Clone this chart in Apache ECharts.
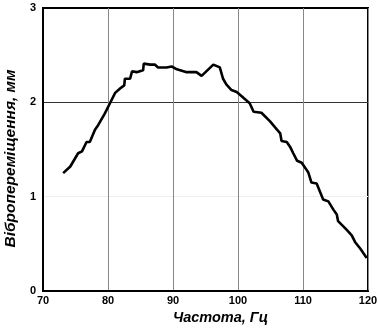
<!DOCTYPE html>
<html>
<head>
<meta charset="utf-8">
<script src="https://cdn.jsdelivr.net/npm/echarts@6/dist/echarts.min.js"></script>
<style>
html, body { margin: 0; padding: 0; background: #fff; }
#main { width: 378px; height: 331px; }
</style>
</head>
<body>
<div id="main"></div>
<script>
// частота, Гц
var freq = [73.1, 74.2, 75.4, 76.0, 76.7, 77.2, 78.0, 78.5, 79.5, 80.3, 81.1, 81.9, 82.5, 82.6, 83.4, 83.7,
    84.4, 84.7, 85.4, 85.5, 86.5, 87.2, 87.7, 89.0, 89.8, 90.6, 92.1, 93.6, 94.4, 96.2, 97.2, 97.7,
    98.2, 99.0, 99.3, 99.8, 100.3, 101.8, 102.4, 103.6, 104.9, 106.0, 106.5, 106.7, 107.5, 108.0,
    108.5, 109.1, 109.8, 110.8, 111.3, 112.1, 113.1, 113.9, 114.7, 115.2, 115.4, 116.7, 117.5,
    118.0, 118.8, 119.8];
// вібропереміщення, мм
var disp = [1.25, 1.32, 1.46, 1.48, 1.58, 1.58, 1.71, 1.76, 1.88, 1.99, 2.10, 2.15, 2.18, 2.25, 2.25, 2.33,
    2.32, 2.34, 2.34, 2.41, 2.40, 2.40, 2.37, 2.37, 2.38, 2.35, 2.32, 2.32, 2.28, 2.40, 2.37, 2.25,
    2.19, 2.13, 2.11, 2.11, 2.08, 1.99, 1.90, 1.89, 1.80, 1.71, 1.67, 1.59, 1.58, 1.53,
    1.46, 1.38, 1.36, 1.26, 1.15, 1.14, 0.97, 0.95, 0.86, 0.81,
    0.74, 0.65, 0.59, 0.52, 0.45, 0.35];
var xTicks = [70, 80, 90, 100, 110, 120];
var yTicks = [0, 1, 2, 3];

var chart = echarts.init(document.getElementById('main'));
var font = 'Liberation Sans, Arial, sans-serif';

var points = [];
for (var i = 0; i < freq.length; i++) points.push([freq[i], disp[i]]);

chart.setOption({
    animation: false,
    backgroundColor: '#fff',
    grid: {
        left: 43, right: 10, top: 8, bottom: 40,
        outerBoundsMode: 'none',
        containLabel: false,
        show: true, borderColor: '#000', borderWidth: 2, backgroundColor: 'transparent'
    },
    xAxis: {
        type: 'value',
        min: xTicks[0], max: xTicks[xTicks.length - 1], interval: 10,
        name: 'Частота, Гц',
        nameLocation: 'middle',
        nameGap: 18,
        nameTextStyle: { fontFamily: font, fontSize: 14.5, fontWeight: 'bold', fontStyle: 'italic', color: '#000', padding: [0, 0, 0, 30] },
        axisLine: { lineStyle: { color: '#000', width: 2 } },
        axisTick: { show: false },
        axisLabel: { fontFamily: font, fontSize: 11, fontWeight: 'bold', color: '#000', margin: 4 },
        splitLine: { lineStyle: { color: '#888', width: 1 } }
    },
    yAxis: {
        type: 'value',
        min: yTicks[0], max: yTicks[yTicks.length - 1], interval: 1,
        name: 'Вібропереміщення, мм',
        nameLocation: 'middle',
        nameGap: 21,
        nameTextStyle: { fontFamily: font, fontSize: 15.5, fontWeight: 'bold', fontStyle: 'italic', color: '#000', padding: [0, 18, 0, 0] },
        axisLine: { lineStyle: { color: '#000', width: 2 } },
        axisTick: { show: false },
        axisLabel: { fontFamily: font, fontSize: 11, fontWeight: 'bold', color: '#000', margin: 7 },
        splitLine: { lineStyle: { color: ['#000', '#eee', '#333', '#000'], width: 1 } }
    },
    series: [{
        type: 'line',
        data: points,
        showSymbol: false,
        lineStyle: { color: '#000', width: 2.6 }
    }]
});
</script>
</body>
</html>
